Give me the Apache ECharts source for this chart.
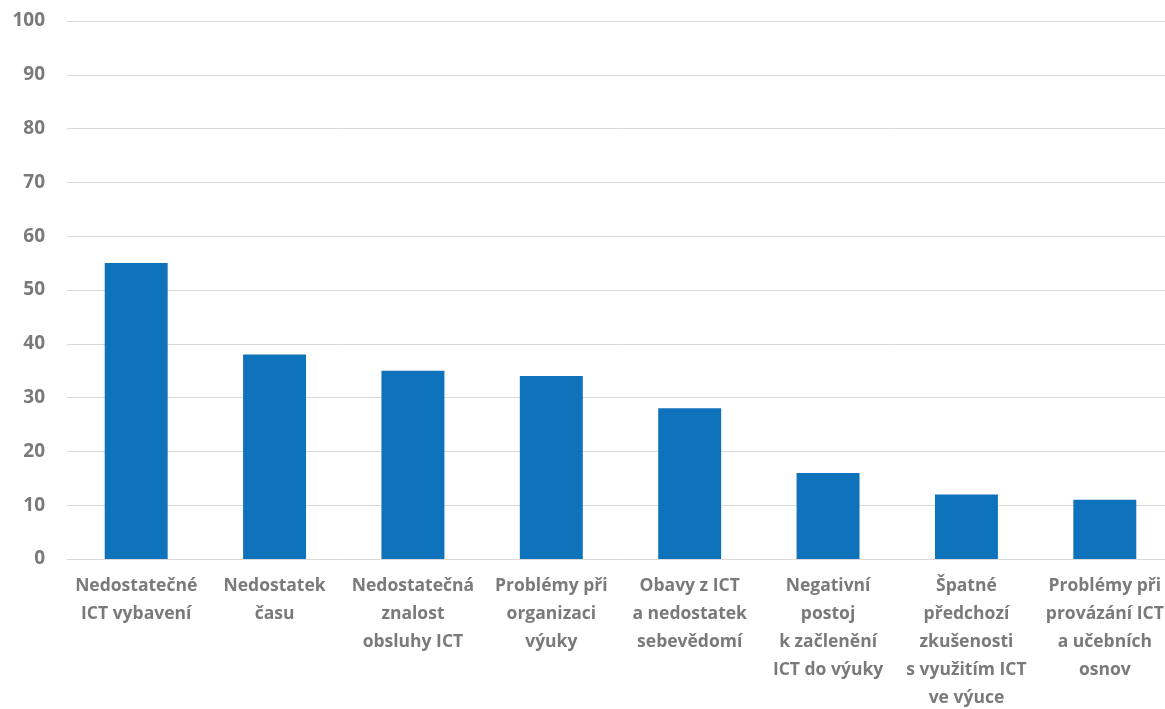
<!DOCTYPE html>
<html><head><meta charset="utf-8">
<script src="https://cdn.jsdelivr.net/npm/echarts@6/dist/echarts.min.js"></script>
<style>html,body{margin:0;padding:0;background:#fff}#c{width:1165px;height:709px}</style>
</head><body><div id="c"></div>
<script>
const categories = [
  "Nedostatečné\nICT vybavení",
  "Nedostatek\nčasu",
  "Nedostatečná\nznalost\nobsluhy ICT",
  "Problémy při\norganizaci\nvýuky",
  "Obavy z ICT\na nedostatek\nsebevědomí",
  "Negativní\npostoj\nk začlenění\nICT do výuky",
  "Špatné\npředchozí\nzkušenosti\ns využitím ICT\nve výuce",
  "Problémy při\nprovázání ICT\na učebních\nosnov"
];
const values = [55, 38, 35, 34, 28, 16, 12, 11];
const yTicks = {min: 0, max: 100, interval: 10};

const chart = echarts.init(document.getElementById('c'), null, {renderer: 'canvas'});
chart.setOption({
  animation: false,
  grid: {left: 67, top: 21, width: 1107, bottom: 150, containLabel: false, outerBoundsMode: 'none'},
  xAxis: {
    type: 'category', data: categories,
    axisLine: {lineStyle: {color: '#d9d9d9', width: 1}},
    axisTick: {show: false},
    axisLabel: {interval: 0, margin: 13, color: '#7a7a7a', fontFamily: 'Open Sans', fontWeight: 'bold', fontSize: 17.5, lineHeight: 28}
  },
  yAxis: {
    type: 'value', min: yTicks.min, max: yTicks.max, interval: yTicks.interval,
    axisLine: {show: false}, axisTick: {show: false},
    splitLine: {lineStyle: {color: '#d9d9d9', width: 1}},
    axisLabel: {margin: 22, color: '#7a7a7a', fontFamily: 'Open Sans', fontWeight: 'bold', fontSize: 19}
  },
  series: [{
    type: 'bar', data: values, barWidth: '45.5%',
    itemStyle: {color: '#0f73bc'}
  }]
});
</script></body></html>
